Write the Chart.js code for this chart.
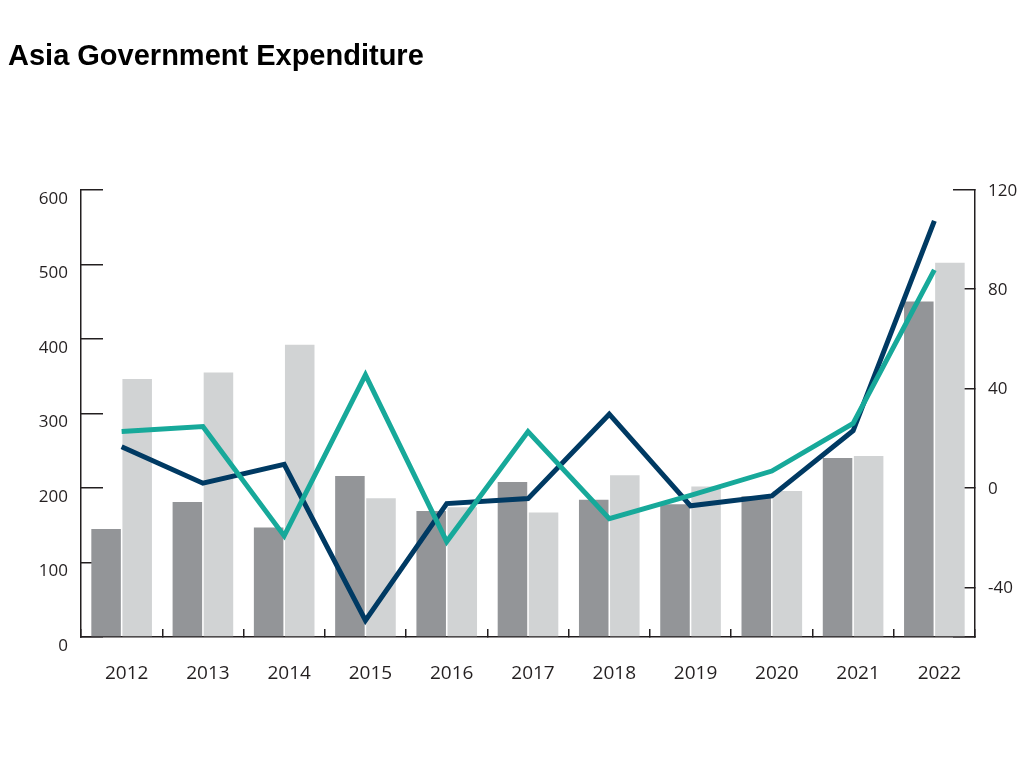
<!DOCTYPE html>
<html>
<head>
<meta charset="utf-8">
<script src="https://cdn.jsdelivr.net/npm/chart.js@4"></script>
<style>
  html, body { margin: 0; padding: 0; background: #fff; }
  #wrap { width: 1024px; height: 770px; position: relative; }
</style>
</head>
<body>
<div id="wrap"><canvas id="chart"></canvas></div>
<script>
// chart data
const years = ['2012', '2013', '2014', '2015', '2016', '2017', '2018', '2019', '2020', '2021', '2022'];
const revenue = [145, 181, 147, 216, 169, 208, 184, 178, 189, 240, 450];       // dark grey bars, left axis
const expenditure = [346, 355, 392, 186, 174, 167, 217, 202, 196, 243, 502];   // light grey bars, left axis
const revenueGrowth = [16.6, 1.9, 9.5, -53.3, -6.3, -4.3, 29.7, -7.2, -3.2, 23, 107.5];     // navy line, right axis
const expenditureGrowth = [22.7, 24.7, -19.3, 45.5, -21.6, 22.7, -12.4, -3, 6.8, 26, 87.8]; // teal line, right axis
const leftTicks = [0, 100, 200, 300, 400, 500, 600];
const rightTicks = [-60, -40, 0, 40, 80, 120];

const INK = '#231f20';
const tickFont = { family: '"Open Sans", sans-serif', size: 17 };

const ctx = document.getElementById('chart').getContext('2d');

new Chart(ctx, {
    type: 'bar',
    data: {
        labels: years,
        datasets: [
            {
                type: 'line',
                label: 'Expenditure growth (%)',
                data: expenditureGrowth,
                yAxisID: 'y1',
                borderColor: '#17a99a',
                borderWidth: 5,
                pointRadius: 0,
                tension: 0,
                order: 0
            },
            {
                type: 'line',
                label: 'Revenue growth (%)',
                data: revenueGrowth,
                yAxisID: 'y1',
                borderColor: '#003a63',
                borderWidth: 5,
                pointRadius: 0,
                tension: 0,
                order: 1
            },
            {
                label: 'Revenue',
                data: revenue,
                yAxisID: 'y',
                backgroundColor: '#939598',
                categoryPercentage: 0.765,
                barPercentage: 0.95,
                order: 2
            },
            {
                label: 'Expenditure',
                data: expenditure,
                yAxisID: 'y',
                backgroundColor: '#d1d3d4',
                categoryPercentage: 0.765,
                barPercentage: 0.95,
                order: 3
            }
        ]
    },
    options: {
        responsive: true,
        maintainAspectRatio: false,
        animation: false,
        layout: {
            padding: { left: 8, right: 0, top: 0, bottom: 0 }
        },
        plugins: {
            legend: { display: false },
            tooltip: { enabled: false },
            title: {
                display: true,
                text: 'Asia Government Expenditure',
                align: 'start',
                color: '#000',
                font: { family: '"Liberation Sans", Arial, sans-serif', size: 29, weight: 'bold', lineHeight: 1.2 },
                padding: { top: 40, bottom: 115 }
            }
        },
        scales: {
            x: {
                offset: true,
                border: { display: true, color: INK, width: 1.5 },
                grid: {
                    offset: true,
                    drawOnChartArea: false,
                    drawTicks: true,
                    tickLength: -8,
                    color: INK,
                    lineWidth: 1.5
                },
                ticks: {
                    color: INK,
                    font: { family: '"Open Sans", sans-serif', size: 19 },
                    padding: 33,
                    labelOffset: 5,
                    maxRotation: 0
                },
                afterFit: scale => { scale.height = 133; }
            },
            y: {
                position: 'left',
                min: 0,
                max: 600,
                afterBuildTicks: scale => { scale.ticks = leftTicks.map(v => ({ value: v })); },
                border: { display: true, color: INK, width: 1.5 },
                grid: {
                    drawOnChartArea: false,
                    drawTicks: true,
                    tickLength: -22,
                    color: INK,
                    lineWidth: 1.5
                },
                ticks: {
                    color: INK,
                    font: tickFont,
                    padding: 35,
                    labelOffset: 9
                },
                afterFit: scale => { scale.width = 73; }
            },
            y1: {
                position: 'right',
                min: -60,
                max: 120,
                afterBuildTicks: scale => { scale.ticks = rightTicks.map(v => ({ value: v })); },
                border: { display: true, color: INK, width: 1.5 },
                grid: {
                    drawOnChartArea: false,
                    drawTicks: true,
                    tickLength: -22,
                    color: INK,
                    lineWidth: 1.5
                },
                ticks: {
                    color: INK,
                    font: tickFont,
                    padding: 35,
                    labelOffset: 1,
                    // bottom tick has no label in the original
                    callback: v => (v === -60 ? '' : v)
                },
                afterFit: scale => { scale.width = 49; }
            }
        }
    }
});
</script>
</body>
</html>
